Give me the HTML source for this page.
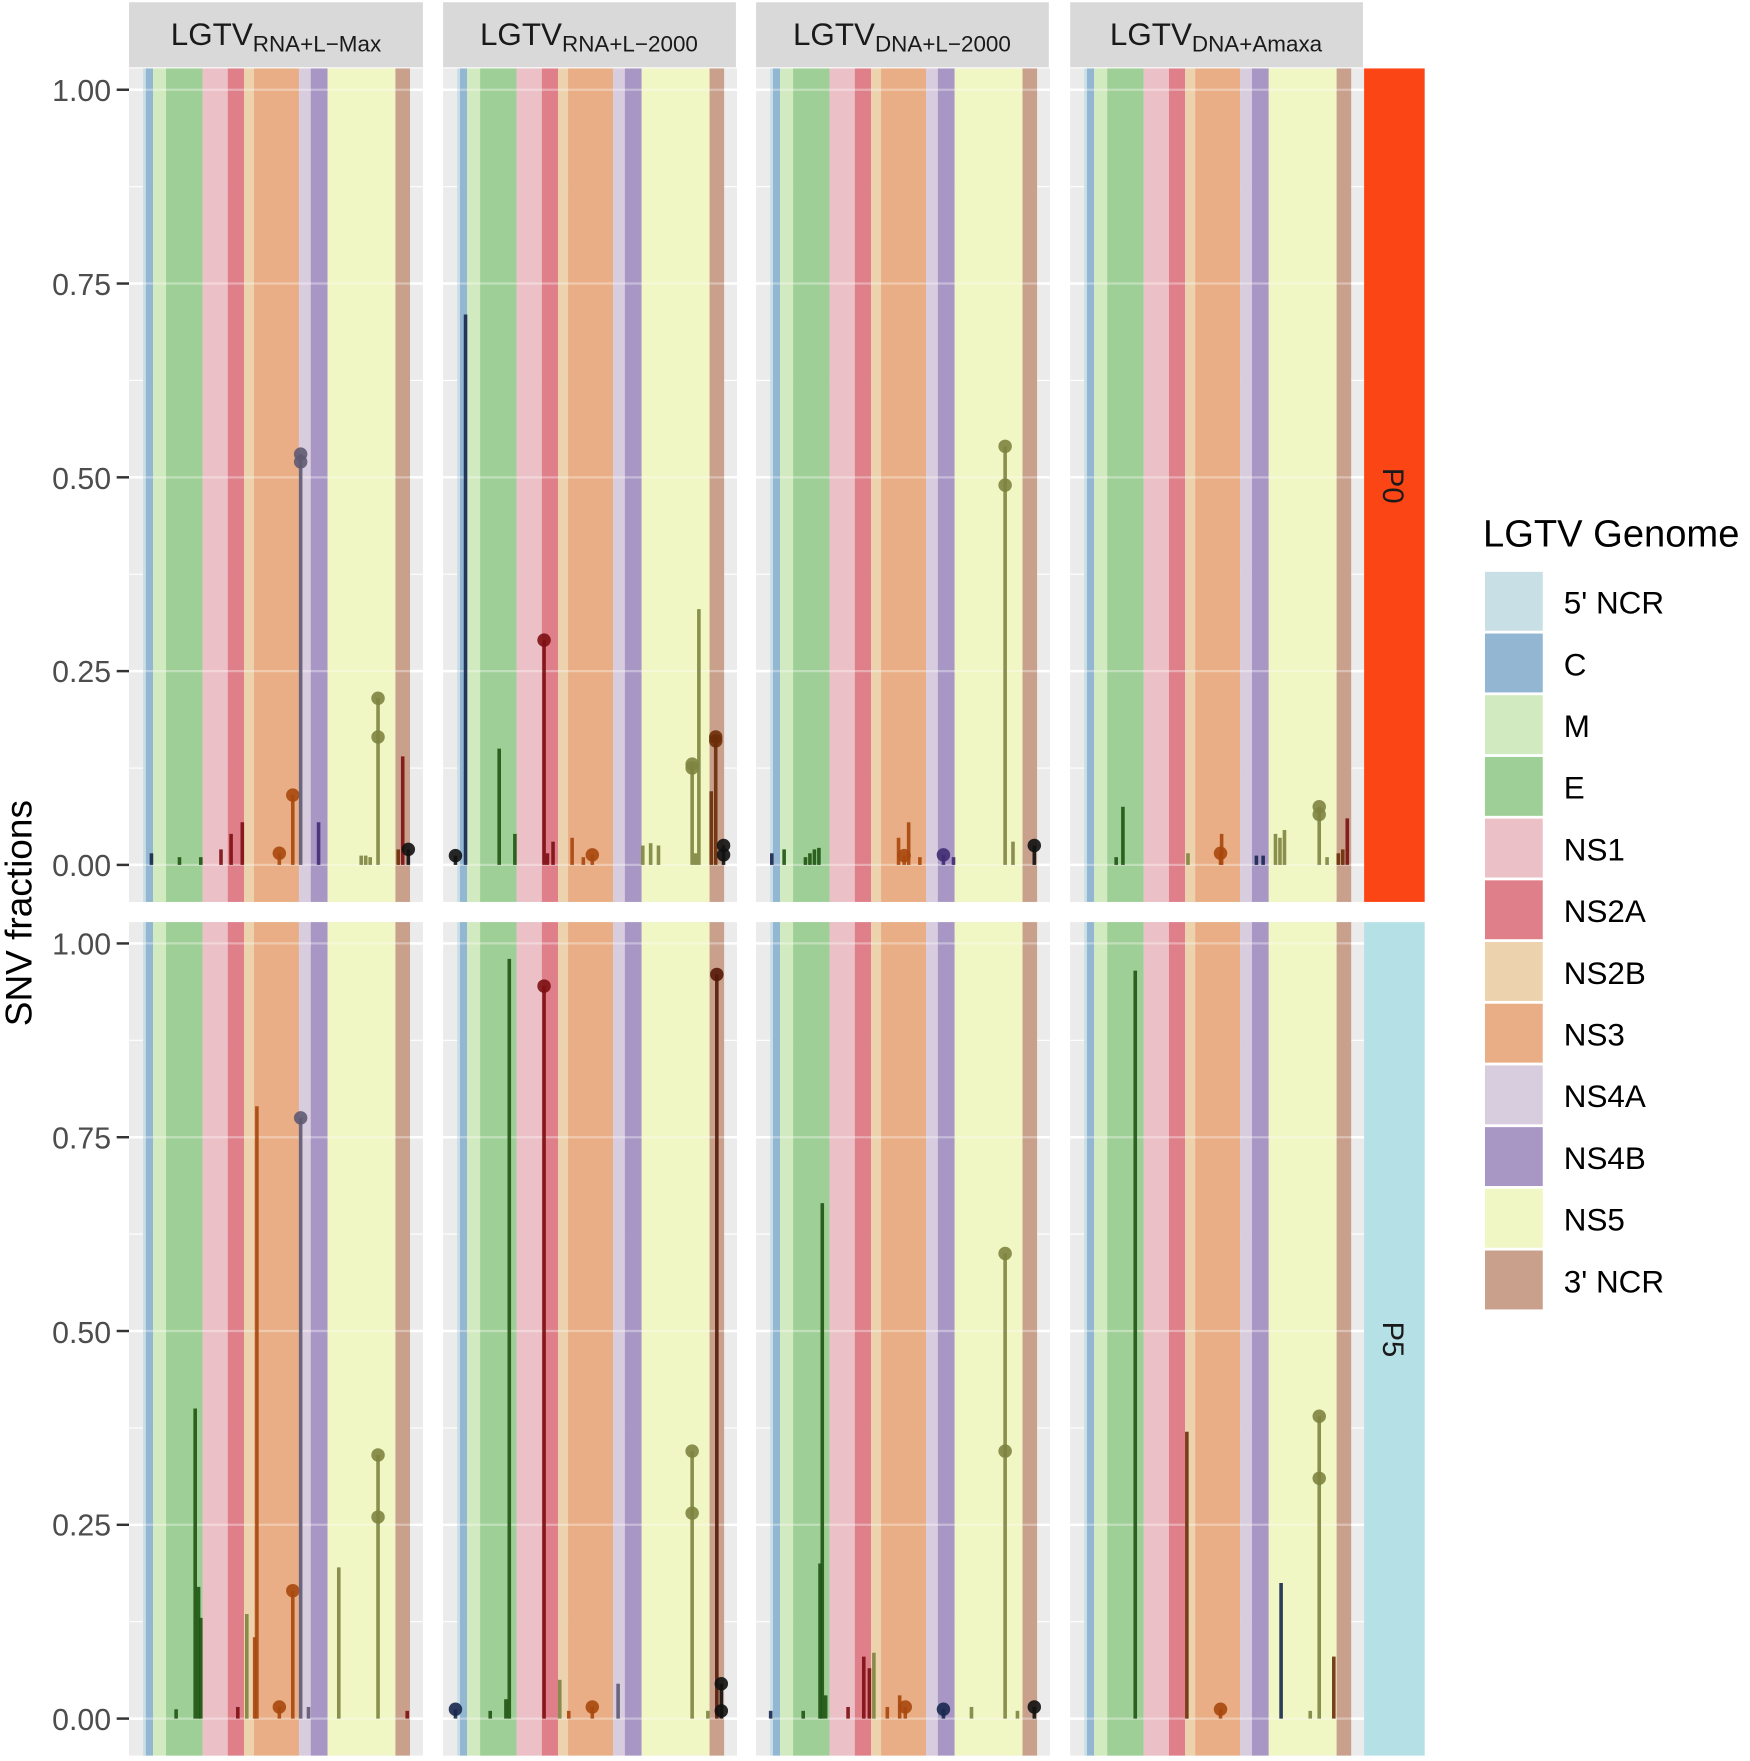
<!DOCTYPE html>
<html><head><meta charset="utf-8"><style>html,body{margin:0;padding:0;background:#fff}svg{display:block}</style></head>
<body>
<svg id="s" xmlns="http://www.w3.org/2000/svg" width="1750" height="1761" viewBox="0 0 1560 1569.8" font-family="Liberation Sans, Arial, sans-serif">
<g id="panels"></g>
<g id="data"></g>
<!-- strips -->
<g fill="#d9d9d9"><rect x="115" y="2" width="262" height="58"/><rect x="395" y="2" width="261" height="58"/><rect x="674" y="2" width="261" height="58"/><rect x="954" y="2" width="261" height="58"/></g>
<g font-size="28" fill="#1a1a1a" text-anchor="middle">
<text x="246" y="40">LGTV<tspan font-size="20" dy="6">RNA+L−Max</tspan></text>
<text x="525" y="40">LGTV<tspan font-size="20" dy="6">RNA+L−2000</tspan></text>
<text x="804" y="40">LGTV<tspan font-size="20" dy="6">DNA+L−2000</tspan></text>
<text x="1084" y="40">LGTV<tspan font-size="20" dy="6">DNA+Amaxa</tspan></text>
</g>
<rect x="1216" y="61" width="54" height="743" fill="#fc4514"/>
<rect x="1216" y="822" width="54" height="743" fill="#b4e0e6"/>
<text transform="translate(1233,433) rotate(90)" font-size="26" fill="#1a1a1a" text-anchor="middle">P0</text>
<text transform="translate(1233,1194) rotate(90)" font-size="26" fill="#1a1a1a" text-anchor="middle">P5</text>
<!-- y axis -->
<g font-size="27" fill="#4d4d4d" text-anchor="end">
<text x="99" y="90">1.00</text><text x="99" y="263">0.75</text><text x="99" y="436">0.50</text><text x="99" y="608">0.25</text><text x="99" y="781">0.00</text>
<text x="99" y="851">1.00</text><text x="99" y="1024">0.75</text><text x="99" y="1197">0.50</text><text x="99" y="1369">0.25</text><text x="99" y="1542">0.00</text>
</g>
<g stroke="#333" stroke-width="2.2" id="ticks"></g>
<text transform="translate(28,814) rotate(-90)" font-size="33" fill="#000" text-anchor="middle">SNV fractions</text>
<!-- legend -->
<text x="1322" y="487" font-size="34" fill="#000">LGTV Genome</text>
<g id="leg"></g>
<g font-size="28" fill="#000">
<text x="1394" y="547">5' NCR</text><text x="1394" y="602">C</text><text x="1394" y="657">M</text><text x="1394" y="712">E</text>
<text x="1394" y="767">NS1</text><text x="1394" y="822">NS2A</text><text x="1394" y="877">NS2B</text><text x="1394" y="932">NS3</text>
<text x="1394" y="987">NS4A</text><text x="1394" y="1042">NS4B</text><text x="1394" y="1097">NS5</text><text x="1394" y="1152">3' NCR</text>
</g>
</svg>
<script>
var NS="http://www.w3.org/2000/svg";
function el(p,t,a){var e=document.createElementNS(NS,t);for(var k in a)e.setAttribute(k,a[k]);p.appendChild(e);return e;}
var P=document.getElementById('panels'),D=document.getElementById('data'),T=document.getElementById('ticks'),L=document.getElementById('leg');
var cols=[115,395,674,954],rows=[[61,771],[822,1532]];
var bands=[[12.5,15,'#c9dfe6'],[15,21.4,'#93b6d2'],[21.4,33,'#d2eac0'],[33,65.5,'#9ecf96'],[65.5,88,'#ebc0c6'],[88,102.5,'#df7f8a'],[102.5,111.4,'#ecd2ad'],[111.4,151.5,'#e9ae85'],[151.5,162,'#d8ccdf'],[162,177,'#a897c5'],[177,237.5,'#f0f6c4'],[237.5,250.5,'#c9a08c']];
rows.forEach(function(r){
  [0,0.25,0.5,0.75,1].forEach(function(v){var y=r[1]-v*691;el(T,'line',{x1:104,x2:115,y1:y,y2:y});});
  cols.forEach(function(c){
    el(P,'rect',{x:c,y:r[0],width:262,height:743,fill:'#ebebeb'});
    for(var v=0;v<=1.0001;v+=0.125){var y=r[1]-v*691;el(P,'line',{x1:c,x2:c+262,y1:y,y2:y,stroke:'#fff','stroke-width':(Math.round(v*8)%2?1:2.2)});}
    bands.forEach(function(b){el(P,'rect',{x:c+b[0],y:r[0],width:b[1]-b[0],height:743,fill:b[2]});});
    for(var v=0;v<=1.0001;v+=0.25){var y=r[1]-v*691;el(P,'line',{x1:c,x2:c+262,y1:y,y2:y,stroke:'#fff','stroke-width':2,opacity:0.35});}
  });
});
var colorsLeg=['#c9dfe6','#93b6d2','#d2eac0','#9ecf96','#ebc0c6','#df7f8a','#ecd2ad','#e9ae85','#d8ccdf','#a897c5','#f0f6c4','#c9a08c'];
colorsLeg.forEach(function(c,i){el(L,'rect',{x:1323,y:509+i*55,width:53,height:54,fill:c,stroke:'#fff','stroke-width':1.5});});
var C={nv:'#18284f',g:'#1f5412',r:'#7d0f12',o:'#a8480e',br:'#6b2e08',gp:'#5f5a72',pu:'#3f2c73',ol:'#7e8440',k:'#111',db:'#551a08'};
var data=[
 [[135,.015,'nv'],[160,.01,'g'],[179,.01,'g'],[197,.02,'r'],[206,.04,'r'],[216,.055,'r'],[249,.015,'o',1],[261,.09,'o',1],[268,.53,'gp',1,.52],[284,.055,'pu'],[322,.012,'ol'],[326,.012,'ol'],[330,.01,'ol'],[337,.215,'ol',1,.165],[355,.02,'br'],[359,.14,'r'],[364,.02,'k',1]],
 [[406,.012,'k',1],[415,.71,'nv'],[445,.15,'g'],[459,.04,'g'],[485,.29,'r',1],[488,.015,'r'],[493,.03,'r'],[510,.035,'o'],[520,.01,'o'],[528,.013,'o',1],[573,.025,'ol'],[580,.028,'ol'],[587,.025,'ol'],[617,.13,'ol',1,.125],[620,.015,'ol'],[623,.33,'ol'],[634,.095,'br'],[638,.165,'br',1,.16],[645,.025,'k',1,.013]],
 [[688,.015,'nv'],[699,.02,'g'],[718,.01,'g'],[722,.015,'g'],[726,.02,'g'],[730,.022,'g'],[801,.035,'o'],[806,.012,'o',1],[810,.055,'o'],[820,.01,'o'],[841,.013,'pu',1],[850,.01,'pu'],[896,.54,'ol',1,.49],[903,.03,'ol'],[922,.025,'k',1]],
 [[995,.01,'g'],[1001,.075,'g'],[1059,.015,'ol'],[1088,.015,'o',1],[1089,.04,'o'],[1120,.012,'nv'],[1126,.012,'nv'],[1137,.04,'ol'],[1141,.035,'ol'],[1145,.045,'ol'],[1176,.075,'ol',1,.065],[1183,.01,'ol'],[1193,.015,'br'],[1197,.02,'br'],[1201,.06,'r']]
];
var data2=[
 [[157,.012,'g'],[174,.4,'g'],[177,.17,'g'],[179,.13,'g'],[212,.015,'r'],[220,.135,'ol'],[227,.105,'o'],[229,.79,'o'],[249,.015,'o',1],[261,.165,'o',1],[268,.775,'gp',1],[275,.015,'gp'],[302,.195,'ol'],[337,.34,'ol',1,.26],[363,.01,'r']],
 [[406,.012,'nv',1],[437,.01,'g'],[451,.025,'g'],[454,.98,'g'],[485,.945,'r',1],[499,.05,'ol'],[507,.01,'o'],[528,.015,'o',1],[551,.045,'gp'],[617,.345,'ol',1,.265],[631,.01,'ol'],[639,.96,'db',1],[643,.045,'k',1,.01]],
 [[687,.01,'nv'],[716,.01,'g'],[731,.2,'g'],[733,.665,'g'],[736,.03,'g'],[756,.015,'r'],[770,.08,'r'],[775,.065,'r'],[779,.085,'ol'],[791,.015,'o'],[802,.03,'o'],[807,.015,'o',1],[841,.012,'nv',1],[866,.015,'ol'],[896,.6,'ol',1,.345],[907,.01,'ol'],[922,.015,'k',1]],
 [[1012,.965,'g'],[1058,.37,'br'],[1088,.012,'o',1],[1142,.175,'nv'],[1168,.01,'ol'],[1176,.39,'ol',1,.31],[1189,.08,'br']]
];
function draw(set,base){set.forEach(function(p){p.forEach(function(d){var c=C[d[2]],y=base-d[1]*691;
 el(D,'line',{x1:d[0],x2:d[0],y1:base,y2:y,stroke:c,'stroke-width':3.2,opacity:0.9});
 if(d[3]){el(D,'circle',{cx:d[0],cy:y,r:6,fill:c,opacity:0.9});if(d[4]!==undefined)el(D,'circle',{cx:d[0],cy:base-d[4]*691,r:6,fill:c,opacity:0.9});}
});});}
draw(data,771);draw(data2,1532);
</script>
</body></html>
